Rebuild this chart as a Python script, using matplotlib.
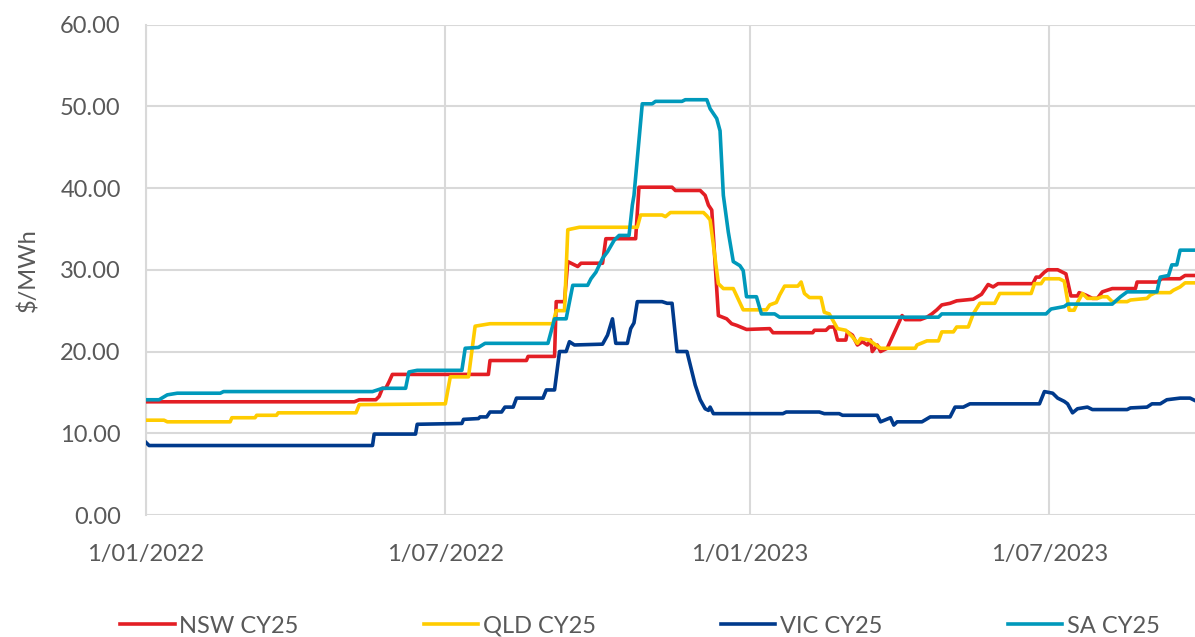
import pandas as pd
import matplotlib.pyplot as plt
import matplotlib.dates as mdates

# -----------------------------------------------------------
# DATA
# -----------------------------------------------------------
nsw_dates = ["2022-01-01", "2022-05-07", "2022-05-10", "2022-05-20", "2022-05-22", "2022-05-24",
             "2022-05-26", "2022-05-28", "2022-05-30", "2022-07-27", "2022-07-28", "2022-08-19",
             "2022-08-20", "2022-09-05", "2022-09-06", "2022-09-11", "2022-09-13", "2022-09-17",
             "2022-09-19", "2022-09-21", "2022-10-04", "2022-10-06", "2022-10-24", "2022-10-26",
             "2022-11-15", "2022-11-17", "2022-12-02", "2022-12-05", "2022-12-07", "2022-12-09",
             "2022-12-13", "2022-12-18", "2022-12-21", "2022-12-24", "2022-12-30", "2023-01-13",
             "2023-01-15", "2023-02-08", "2023-02-09", "2023-02-16", "2023-02-18", "2023-02-21",
             "2023-02-23", "2023-02-28", "2023-03-01", "2023-03-04", "2023-03-07", "2023-03-10",
             "2023-03-13", "2023-03-15", "2023-03-16", "2023-03-19", "2023-03-21", "2023-03-25",
             "2023-04-03", "2023-04-05", "2023-04-14", "2023-04-18", "2023-04-21", "2023-04-24",
             "2023-04-27", "2023-05-02", "2023-05-06", "2023-05-16", "2023-05-21", "2023-05-25",
             "2023-05-28", "2023-05-31", "2023-06-21", "2023-06-23", "2023-06-25", "2023-06-28",
             "2023-06-30", "2023-07-06", "2023-07-09", "2023-07-11", "2023-07-14", "2023-07-18",
             "2023-07-19", "2023-07-23", "2023-07-27", "2023-07-30", "2023-08-02", "2023-08-05",
             "2023-08-08", "2023-08-22", "2023-08-23", "2023-09-04", "2023-09-07", "2023-09-18",
             "2023-09-21", "2023-09-27"]
nsw_vals = [13.85, 13.85, 14.1, 14.1, 14.5, 15.5,
            15.5, 16.3, 17.2, 17.2, 18.9, 18.9,
            19.4, 19.4, 26.1, 26.1, 31.0, 30.6,
            30.4, 30.8, 30.8, 33.8, 33.8, 40.1,
            40.1, 39.7, 39.7, 39.1, 37.9, 37.3,
            24.4, 24.0, 23.4, 23.2, 22.7, 22.8,
            22.3, 22.3, 22.6, 22.6, 23.0, 23.0,
            21.4, 21.4, 22.4, 22.0, 20.8, 21.2,
            20.8, 21.4, 20.0, 20.8, 20.0, 20.4,
            24.4, 23.9, 23.9, 24.2, 24.6, 25.1,
            25.7, 25.9, 26.2, 26.4, 27.0, 28.2,
            27.9, 28.3, 28.3, 29.1, 29.1, 29.7,
            30.0, 30.0, 29.7, 29.5, 26.8, 26.8,
            27.2, 26.9, 26.5, 26.5, 27.3, 27.5,
            27.7, 27.7, 28.5, 28.5, 28.9, 28.9,
            29.3, 29.3]

qld_dates = ["2022-01-01", "2022-01-12", "2022-01-14", "2022-02-21", "2022-02-22", "2022-03-08",
             "2022-03-09", "2022-03-21", "2022-03-22", "2022-05-08", "2022-05-10", "2022-07-01",
             "2022-07-04", "2022-07-15", "2022-07-19", "2022-07-28", "2022-09-04", "2022-09-06",
             "2022-09-11", "2022-09-13", "2022-09-20", "2022-10-25", "2022-10-27", "2022-11-09",
             "2022-11-11", "2022-11-14", "2022-12-04", "2022-12-06", "2022-12-08", "2022-12-13",
             "2022-12-16", "2022-12-22", "2022-12-28", "2023-01-11", "2023-01-13", "2023-01-17",
             "2023-01-19", "2023-01-22", "2023-01-30", "2023-02-01", "2023-02-03", "2023-02-06",
             "2023-02-13", "2023-02-15", "2023-02-18", "2023-02-23", "2023-02-28", "2023-03-04",
             "2023-03-07", "2023-03-09", "2023-03-14", "2023-03-21", "2023-04-11", "2023-04-12",
             "2023-04-18", "2023-04-25", "2023-04-27", "2023-05-04", "2023-05-06", "2023-05-13",
             "2023-05-16", "2023-05-20", "2023-05-29", "2023-06-01", "2023-06-20", "2023-06-22",
             "2023-06-26", "2023-06-28", "2023-07-07", "2023-07-10", "2023-07-13", "2023-07-16",
             "2023-07-18", "2023-07-21", "2023-07-24", "2023-07-30", "2023-08-02", "2023-08-05",
             "2023-08-08", "2023-08-17", "2023-08-19", "2023-08-29", "2023-08-31", "2023-09-03",
             "2023-09-12", "2023-09-14", "2023-09-18", "2023-09-21", "2023-09-27"]
qld_vals = [11.6, 11.6, 11.4, 11.4, 11.9, 11.9,
            12.2, 12.2, 12.5, 12.5, 13.5, 13.6,
            16.9, 16.9, 23.1, 23.4, 23.4, 25.0,
            25.0, 34.9, 35.2, 35.2, 36.7, 36.7,
            36.5, 37.0, 37.0, 36.6, 36.1, 28.3,
            27.7, 27.7, 25.1, 25.1, 25.7, 26.0,
            26.9, 28.0, 28.0, 28.5, 27.1, 26.6,
            26.6, 24.8, 24.6, 22.8, 22.6, 21.8,
            21.0, 21.6, 21.4, 20.4, 20.4, 20.8,
            21.3, 21.3, 22.4, 22.4, 23.0, 23.0,
            24.6, 25.9, 25.9, 27.1, 27.1, 28.3,
            28.3, 28.9, 28.9, 28.6, 25.05, 25.05,
            26.0, 27.1, 26.5, 26.5, 26.7, 26.7,
            26.1, 26.1, 26.3, 26.5, 26.9, 27.2,
            27.2, 27.5, 27.9, 28.4, 28.4]

vic_dates = ["2022-01-01", "2022-01-03", "2022-05-18", "2022-05-19", "2022-06-13", "2022-06-14",
             "2022-07-11", "2022-07-12", "2022-07-21", "2022-07-22", "2022-07-26", "2022-07-28",
             "2022-08-04", "2022-08-06", "2022-08-11", "2022-08-13", "2022-08-29", "2022-08-31",
             "2022-09-05", "2022-09-08", "2022-09-12", "2022-09-14", "2022-09-17", "2022-10-04",
             "2022-10-07", "2022-10-10", "2022-10-12", "2022-10-19", "2022-10-21", "2022-10-23",
             "2022-10-25", "2022-11-09", "2022-11-12", "2022-11-15", "2022-11-18", "2022-11-24",
             "2022-11-29", "2022-12-02", "2022-12-05", "2022-12-07", "2022-12-08", "2022-12-10",
             "2023-01-21", "2023-01-23", "2023-02-12", "2023-02-15", "2023-02-24", "2023-02-26",
             "2023-03-19", "2023-03-21", "2023-03-27", "2023-03-29", "2023-03-31", "2023-04-15",
             "2023-04-20", "2023-05-02", "2023-05-05", "2023-05-10", "2023-05-14", "2023-06-25",
             "2023-06-28", "2023-07-03", "2023-07-06", "2023-07-10", "2023-07-12", "2023-07-15",
             "2023-07-18", "2023-07-24", "2023-07-27", "2023-08-17", "2023-08-19", "2023-08-29",
             "2023-09-01", "2023-09-06", "2023-09-10", "2023-09-18", "2023-09-24", "2023-09-27"]
vic_vals = [8.9, 8.5, 8.5, 9.9, 9.9, 11.1,
            11.2, 11.7, 11.8, 12.0, 12.0, 12.6,
            12.6, 13.2, 13.2, 14.3, 14.3, 15.3,
            15.3, 20.0, 20.0, 21.2, 20.8, 20.9,
            22.0, 24.0, 21.0, 21.0, 22.8, 23.5,
            26.1, 26.1, 25.9, 25.9, 20.0, 20.0,
            15.9, 14.1, 13.0, 12.8, 13.2, 12.4,
            12.4, 12.6, 12.6, 12.4, 12.4, 12.2,
            12.2, 11.4, 11.9, 11.0, 11.4, 11.4,
            12.0, 12.0, 13.2, 13.2, 13.6, 13.6,
            15.1, 14.9, 14.3, 13.9, 13.6, 12.5,
            13.0, 13.2, 12.9, 12.9, 13.1, 13.2,
            13.6, 13.6, 14.1, 14.3, 14.3, 14.0]

sa_dates = ["2022-01-01", "2022-01-09", "2022-01-14", "2022-01-20", "2022-02-15", "2022-02-17",
            "2022-05-18", "2022-05-24", "2022-06-07", "2022-06-09", "2022-06-14", "2022-07-11",
            "2022-07-13", "2022-07-21", "2022-07-25", "2022-09-01", "2022-09-05", "2022-09-12",
            "2022-09-16", "2022-09-25", "2022-09-27", "2022-09-30", "2022-10-04", "2022-10-07",
            "2022-10-11", "2022-10-14", "2022-10-20", "2022-10-22", "2022-10-23", "2022-10-28",
            "2022-11-03", "2022-11-05", "2022-11-21", "2022-11-23", "2022-12-06", "2022-12-08",
            "2022-12-12", "2022-12-14", "2022-12-16", "2022-12-19", "2022-12-22", "2022-12-26",
            "2022-12-28", "2022-12-30", "2023-01-05", "2023-01-08", "2023-01-16", "2023-01-19",
            "2023-04-25", "2023-04-27", "2023-06-29", "2023-07-02", "2023-07-10", "2023-07-12",
            "2023-08-08", "2023-08-13", "2023-08-17", "2023-09-04", "2023-09-06", "2023-09-11",
            "2023-09-13", "2023-09-16", "2023-09-18", "2023-09-27"]
sa_vals = [14.1, 14.1, 14.7, 14.9, 14.9, 15.1,
           15.1, 15.5, 15.5, 17.5, 17.7, 17.7,
           20.4, 20.5, 21.0, 21.0, 24.0, 24.0,
           28.1, 28.1, 28.9, 29.7, 31.4, 32.2,
           33.6, 34.2, 34.2, 37.9, 39.1, 50.3,
           50.3, 50.6, 50.6, 50.8, 50.8, 49.7,
           48.5, 47.0, 39.1, 34.6, 31.0, 30.5,
           29.9, 26.7, 26.7, 24.6, 24.6, 24.2,
           24.2, 24.6, 24.6, 25.2, 25.5, 25.8,
           25.8, 26.7, 27.3, 27.3, 29.1, 29.3,
           30.6, 30.6, 32.4, 32.4]

series = [
    ("NSW CY25", nsw_dates, nsw_vals, "#E31E24"),
    ("QLD CY25", qld_dates, qld_vals, "#FFCC00"),
    ("VIC CY25", vic_dates, vic_vals, "#003A8C"),
    ("SA CY25", sa_dates, sa_vals, "#0099BB"),
]

x_ticks = ["2022-01-01", "2022-07-01", "2023-01-01", "2023-07-01"]
y_ticks = [0, 10, 20, 30, 40, 50, 60]

# -----------------------------------------------------------
# PLOT
# -----------------------------------------------------------
plt.rcParams['font.family'] = ['Lato', 'DejaVu Sans']
text_col = "#595959"
grid_col = "#D9D9D9"
fs = 17

fig = plt.figure(figsize=(11.95, 6.37), dpi=100)
ax = fig.add_axes([0.122, 0.1915, 0.878, 0.77])

for name, d, v, c in series:
    ax.plot(pd.to_datetime(d), v, color=c, linewidth=2.6, label=name,
            solid_joinstyle="round", zorder=3)

ax.set_ylim(0, 60)
ax.set_yticks(y_ticks)
ax.yaxis.set_major_formatter(plt.FuncFormatter(lambda v, p: f"{v:.2f}"))

ax.set_xlim(pd.Timestamp("2022-01-01"), pd.Timestamp("2023-09-27"))
ax.set_xticks(pd.to_datetime(x_ticks))
ax.xaxis.set_major_formatter(plt.FuncFormatter(
    lambda v, p: (lambda d: f"{d.day}/{d.month:02d}/{d.year}")(mdates.num2date(v))))

ax.grid(True, color=grid_col, linewidth=1.5, zorder=0)
for s in ["top", "right", "bottom"]:
    ax.spines[s].set_visible(False)
ax.spines["left"].set_color(grid_col)
ax.spines["left"].set_linewidth(1.5)
ax.tick_params(axis="both", length=0, labelsize=fs, labelcolor=text_col)
ax.tick_params(axis="y", pad=18)
ax.tick_params(axis="x", pad=21)

ax.set_ylabel("$/MWh", fontsize=fs, color=text_col, labelpad=15)

fig.legend(loc="center", bbox_to_anchor=(0.5356, 0.017), ncol=4, frameon=False,
           fontsize=fs, labelcolor=text_col, handlelength=2.3, handletextpad=0.2,
           columnspacing=5.3)

fig.savefig("out.png", dpi=100)
